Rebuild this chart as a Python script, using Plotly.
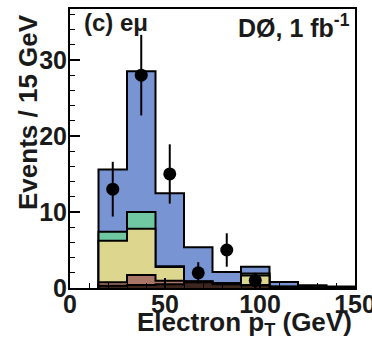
import plotly.graph_objects as go

# Binning: 15 GeV bins from 15 to 150 GeV
bin_edges = [15, 30, 45, 60, 75, 90, 105, 120, 135, 150]
bin_centers = [22.5, 37.5, 52.5, 67.5, 82.5, 97.5]

# Background / signal components per bin (events / 15 GeV), bottom to top of the stack
comp_dark = [0.30, 0.40, 0.50, 0.75, 0.50, 0.35, 0.10, 0.05, 0.03]
comp_brown = [0.45, 1.30, 0.45, 0.05, 0.05, 0.05, 0.02, 0.01, 0.01]
comp_yellow = [5.45, 6.10, 1.80, 0.05, 0.05, 1.25, 0.03, 0.02, 0.01]
comp_green = [1.20, 2.20, 0.10, 0.05, 0.05, 0.25, 0.05, 0.02, 0.01]
comp_blue = [8.20, 18.50, 9.60, 4.45, 1.45, 0.90, 0.60, 0.25, 0.14]

# Observed data with statistical uncertainties
data_counts = [13, 28, 15, 2, 5, 1]
data_errors = [3.6, 5.3, 3.9, 1.4, 2.2, 1.0]

components = [
    (comp_dark, "#3b251c"),
    (comp_brown, "#a87566"),
    (comp_yellow, "#dcd68e"),
    (comp_green, "#70c8a2"),
    (comp_blue, "#7894d2"),
]

# cumulative stack heights
stacks = []
running = [0.0] * len(comp_dark)
for vals, color in components:
    running = [r + v for r, v in zip(running, vals)]
    stacks.append((list(running), color))

fig = go.Figure()


def step_outline(heights):
    xs = [bin_edges[0]] + bin_edges[:-1] + [bin_edges[-1], bin_edges[-1]]
    ys = [0] + heights + [heights[-1], 0]
    return xs, ys


# draw the tallest stack first so lower layers paint over it
for heights, color in reversed(stacks):
    xs, ys = step_outline(heights)
    fig.add_trace(go.Scatter(
        x=xs, y=ys, mode="lines", line=dict(shape="hv", color="black", width=2),
        fill="tozeroy", fillcolor=color, showlegend=False, hoverinfo="skip",
    ))

fig.add_trace(go.Scatter(
    x=bin_centers, y=data_counts, mode="markers",
    marker=dict(color="black", size=13),
    error_y=dict(type="data", array=data_errors, color="black", thickness=2, width=0),
    showlegend=False,
))

FONT = "Liberation Sans, Arial, sans-serif"
TXT = "#1a1a1a"
L, R, T, B = 70, 17, 9, 54
W, H = 372, 342


def px_x(px):
    return (px - L) / (W - L - R)


def px_y(py):
    return (H - B - py) / (H - T - B)


axis_common = dict(
    ticks="inside", ticklen=10, tickwidth=1.5, tickcolor="black",
    showline=True, linecolor="black", linewidth=2, mirror=True,
    showgrid=False, zeroline=False, ticklabeloverflow="allow", automargin=False,
    tickfont=dict(size=25, weight="bold", family=FONT, color=TXT),
)

fig.update_layout(
    width=W, height=H, autosize=False,
    margin=dict(l=L, r=R, t=T, b=B, pad=0),
    paper_bgcolor="white", plot_bgcolor="white",
    font=dict(family=FONT, color=TXT),
    xaxis=dict(
        range=[0, 150], tickvals=[0, 50, 100, 150], ticklabelstandoff=-7,
        minor=dict(dtick=10, ticks="inside", ticklen=5, tickcolor="black", tickwidth=1.2),
        **axis_common,
    ),
    yaxis=dict(
        range=[0, 36.7], tickvals=[0, 10, 20, 30], ticklabelstandoff=-4,
        minor=dict(dtick=2, ticks="inside", ticklen=5, tickcolor="black", tickwidth=1.2),
        **axis_common,
    ),
    annotations=[
        dict(text="Electron p<sub>T</sub> (GeV)", xref="paper", yref="paper",
             x=px_x(354), y=px_y(324), xanchor="right", yanchor="middle", showarrow=False,
             font=dict(size=26, weight="bold", family=FONT, color=TXT)),
        dict(text="Events / 15 GeV", xref="paper", yref="paper", textangle=-90,
             x=px_x(28), y=px_y(12), xanchor="center", yanchor="top", showarrow=False,
             font=dict(size=26, weight="bold", family=FONT, color=TXT)),
        dict(text="(c) eμ", xref="paper", yref="paper",
             x=px_x(82), y=px_y(22), xanchor="left", yanchor="middle", showarrow=False,
             font=dict(size=24, weight="bold", family=FONT, color=TXT)),
        dict(text="DØ, 1 fb<sup>-1</sup>", xref="paper", yref="paper",
             x=px_x(352), y=px_y(26), xanchor="right", yanchor="middle", showarrow=False,
             font=dict(size=25, weight="bold", family=FONT, color=TXT)),
    ],
)

fig.write_html("out.html")
